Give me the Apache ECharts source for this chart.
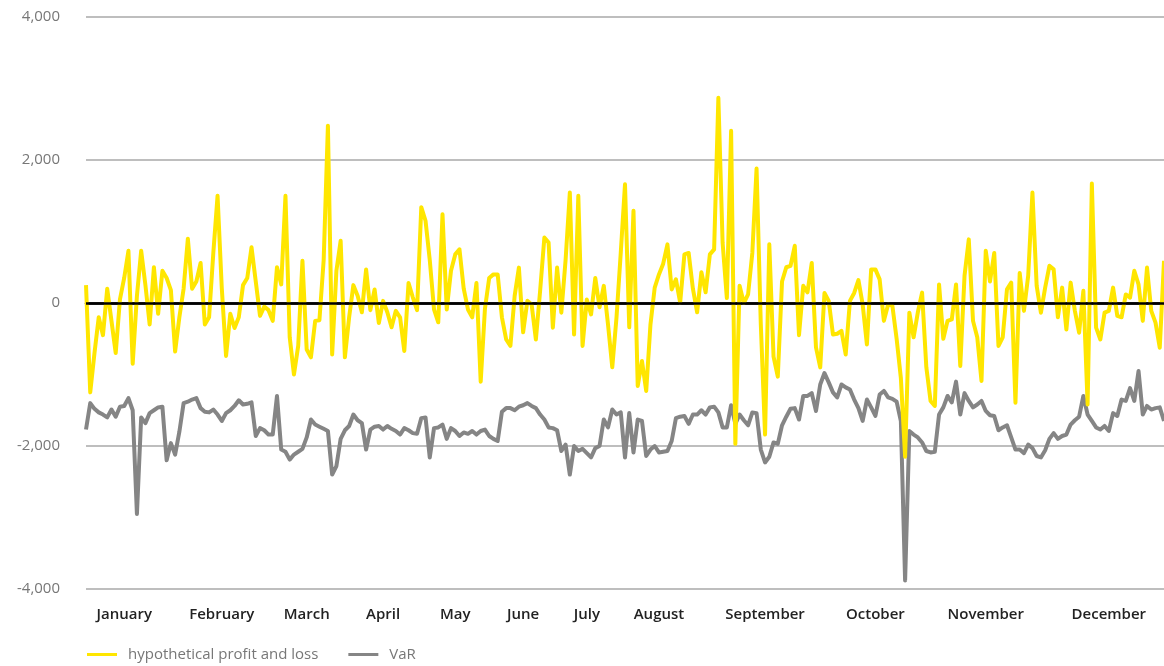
<!DOCTYPE html>
<html>
<head>
<meta charset="utf-8">
<script src="https://cdn.jsdelivr.net/npm/echarts@6/dist/echarts.min.js"></script>
<style>
html,body{margin:0;padding:0;background:#fff;}
#chart{width:1164px;height:666px;}
</style>
</head>
<body>
<div id="chart"></div>
<script>
const months = ['January','February','March','April','May','June','July','August','September','October','November','December'];
const monthIdx = [9,32,52,70,87,103,118,135,160,186,212,241];
const yTicks = [-4000,-2000,0,2000,4000];

const pnl = [
250,-1250,-700,-200,-450,200,-250,-700,50,350,
730,-850,100,730,250,-300,500,-150,450,350,
180,-680,-200,200,
900,200,300,560,-300,-200,
700,1500,200,-740,-150,-350,-200,250,350,780,
300,-180,-50,-100,-250,500,260,1500,
-480,-1000,-600,590,-650,-760,-250,-240,600,2480,
-720,450,870,-760,-200,250,100,-130,470,-100,
190,-280,30,
-130,-340,-110,-200,-670,280,80,-100,1340,
1150,600,-90,-270,1240,-90,450,680,750,200,
-90,-200,280,-1100,-80,
350,400,400,-200,-510,
-600,100,495,-410,30,-20,-510,170,915,845,
-345,495,-135,600,1545,-440,1500,-600,
50,-160,350,-60,240,-300,-900,-200,700,1660,
-340,1290,-1160,-810,-1230,-300,215,400,550,820,
190,330,5,680,
700,200,-130,430,150,680,750,2870,
840,70,2410,-1970,240,0,120,700,1880,-300,
-1840,820,-750,-1030,300,500,
520,800,-450,240,150,560,-620,-900,140,30,
-440,-430,-390,-720,30,140,320,-20,-580,470,
470,330,-250,
-20,-40,-500,-1050,-2150,-135,-480,-130,145,-900,
-1370,-1440,260,-500,-250,-230,260,-880,380,890,
-250,-480,-1090,730,
300,700,-600,-480,190,285,-1395,420,-110,380,
1545,240,-135,215,520,470,-200,215,-370,285,
-110,-415,170,-1420,1670,-345,-510,-135,-110,215,
-180,-200,120,75,450,260,-250,495,-110,-275,
-625,590
];

const valueAtRisk = [
-1770,-1400,-1480,-1530,-1560,-1600,-1490,-1590,-1450,-1440,
-1330,-1500,-2950,-1600,-1680,-1540,-1500,-1460,-1450,-2200,
-1960,-2120,-1800,-1400,
-1380,-1350,-1330,-1470,-1520,-1530,
-1490,-1560,-1650,-1540,-1500,-1440,-1360,-1420,-1410,-1390,
-1860,-1750,-1780,-1840,-1840,-1300,-2050,-2080,
-2190,-2120,-2080,-2040,-1880,-1630,-1700,-1730,-1760,-1790,
-2400,-2280,-1900,-1780,-1720,-1560,-1640,-1680,-2050,-1770,
-1730,-1720,-1770,
-1720,-1760,-1790,-1840,-1750,-1780,-1820,-1830,-1610,
-1600,-2160,-1750,-1740,-1700,-1900,-1750,-1790,-1860,-1810,
-1830,-1790,-1840,-1790,-1770,
-1860,-1900,-1930,-1520,-1470,
-1470,-1500,-1450,-1430,-1400,-1440,-1470,-1560,-1630,-1740,
-1750,-1780,-2070,-1980,-2400,-2000,-2070,-2040,
-2100,-2160,-2030,-2000,-1630,-1740,-1490,-1560,-1530,-2160,
-1540,-2090,-1630,-1650,-2140,-2050,-2000,-2090,-2080,-2070,
-1930,-1610,-1590,-1580,
-1690,-1560,-1560,-1500,-1560,-1460,-1450,-1530,
-1740,-1740,-1430,-1690,-1560,-1640,-1710,-1530,-1540,-2050,
-2230,-2150,-1950,-1970,-1710,-1590,
-1480,-1470,-1630,-1300,-1300,-1260,-1510,-1140,-980,-1110,
-1250,-1320,-1140,-1180,-1210,-1350,-1470,-1650,-1350,-1460,
-1580,-1280,-1230,
-1320,-1340,-1380,-1650,-3880,-1790,-1840,-1880,-1950,-2070,
-2090,-2080,-1560,-1460,-1300,-1390,-1100,-1560,-1260,-1370,
-1460,-1420,-1370,-1510,
-1570,-1580,-1780,-1740,-1710,-1880,-2050,-2050,-2100,-1980,
-2030,-2140,-2160,-2060,-1900,-1820,-1900,-1860,-1840,-1700,
-1640,-1590,-1300,-1560,-1650,-1740,-1770,-1720,-1790,-1540,
-1580,-1350,-1370,-1190,-1370,-950,-1560,-1440,-1490,-1470,
-1460,-1650
];

const days = pnl.map((_, i) => 'Day ' + (i + 1));
const labelMap = {};
monthIdx.forEach((idx, k) => { labelMap[idx] = months[k]; });

const FONT = '"Open Sans", "Noto Sans", sans-serif';
const chart = echarts.init(document.getElementById('chart'), null, {renderer: 'canvas'});
const option = {
  animation: false,
  backgroundColor: '#fff',
  grid: {left: 86, right: 0, top: 17, bottom: 77, containLabel: false},
  legend: {
    left: 87, top: 647, padding: 0,
    icon: 'rect', itemWidth: 30, itemHeight: 3, itemGap: 30,
    textStyle: {color: '#777', fontSize: 15, fontFamily: FONT, padding: [0, 0, 0, 6]},
    data: ['hypothetical profit and loss', 'VaR']
  },
  xAxis: {
    type: 'category', data: days, boundaryGap: false,
    axisLine: {show: true, lineStyle: {color: '#111', width: 2.5}},
    axisTick: {show: false},
    splitLine: {show: false},
    axisLabel: {
      interval: (i) => labelMap[i] !== undefined,
      formatter: (v, i) => labelMap[i] || '',
      margin: 18, color: '#222', fontSize: 15, fontWeight: 600,
      fontFamily: FONT
    }
  },
  yAxis: {
    type: 'value', min: yTicks[0], max: yTicks[yTicks.length - 1], interval: 2000,
    axisLine: {show: false}, axisTick: {show: false},
    splitLine: {show: true, lineStyle: {color: '#a8a8a8', width: 1.5}},
    axisLabel: {
      margin: 26, color: '#777', fontSize: 15,
      fontFamily: FONT,
      formatter: (v) => v.toLocaleString('en-US')
    }
  },
  series: [
    {
      name: 'VaR', type: 'line', data: valueAtRisk, z: 2,
      showSymbol: false, symbol: 'none',
      itemStyle: {color: '#858585'},
      lineStyle: {color: '#858585', width: 4, join: 'round'},
      markLine: {
        silent: true, symbol: 'none', label: {show: false},
        lineStyle: {color: '#000', width: 2.5, type: 'solid'},
        data: [{yAxis: 0}]
      }
    },
    {
      name: 'hypothetical profit and loss', type: 'line', data: pnl, z: 3,
      showSymbol: false, symbol: 'none',
      itemStyle: {color: '#FFE600'},
      lineStyle: {color: '#FFE600', width: 4, join: 'round'}
    }
  ]
};
chart.setOption(option);
</script>
</body>
</html>
